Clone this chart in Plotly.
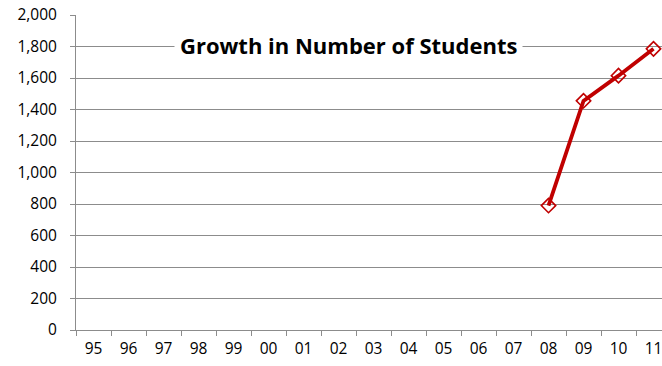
import plotly.graph_objects as go

categories = ["95","96","97","98","99","00","01","02","03","04","05","06","07","08","09","10","11"]
students = [None]*13 + [790, 1455, 1615, 1785]
y_ticks = list(range(0, 2001, 200))

FONT = "Open Sans"
GRID = "#8c8c8c"

L, T, H, W = 76, 15, 366, 662
plot_bottom = 330
plot_w = W - L
x_hi = -0.5 + plot_w / 35.0

fig = go.Figure()
fig.add_trace(go.Scatter(
    x=categories, y=students, mode="lines+markers",
    line=dict(color="#C00000", width=3.8),
    marker=dict(symbol="diamond-open", size=11, color="#C00000", line=dict(width=1.6, color="#C00000")),
    connectgaps=False, showlegend=False, cliponaxis=False,
))

fig.add_annotation(
    text="<b>Growth in Number of Students</b>", xref="paper", yref="paper",
    x=(348 - L) / plot_w, y=(plot_bottom - 45) / (plot_bottom - T), xanchor="center", yanchor="middle",
    showarrow=False, bgcolor="white", borderpad=5,
    font=dict(family=FONT, size=22, color="black"),
)

fig.update_layout(
    width=W, height=H,
    margin=dict(l=L, r=0, t=T, b=H - plot_bottom),
    paper_bgcolor="white", plot_bgcolor="white",
    font=dict(family=FONT, size=15, color="black"),
    xaxis=dict(
        type="category", categoryorder="array", categoryarray=categories,
        range=[-0.5, x_hi], tickson="boundaries", ticks="outside", ticklen=5,
        tickcolor=GRID, showline=True, linecolor=GRID, linewidth=1,
        showgrid=False, tickfont=dict(family=FONT, size=15.5), automargin=False,
        ticklabelstandoff=4,
    ),
    yaxis=dict(
        range=[0, 2000], tickvals=y_ticks, tickformat=",", ticks="outside", ticklen=5,
        tickcolor=GRID, showline=True, linecolor=GRID, linewidth=1,
        showgrid=True, gridcolor=GRID, gridwidth=1, zeroline=False,
        tickfont=dict(family=FONT, size=15.5), automargin=False,
        ticklabelstandoff=10,
    ),
)

fig.write_html(
    "out.html",
    config={"displayModeBar": False},
    post_script="document.body.style.margin='0';document.body.style.overflow='hidden';",
)
